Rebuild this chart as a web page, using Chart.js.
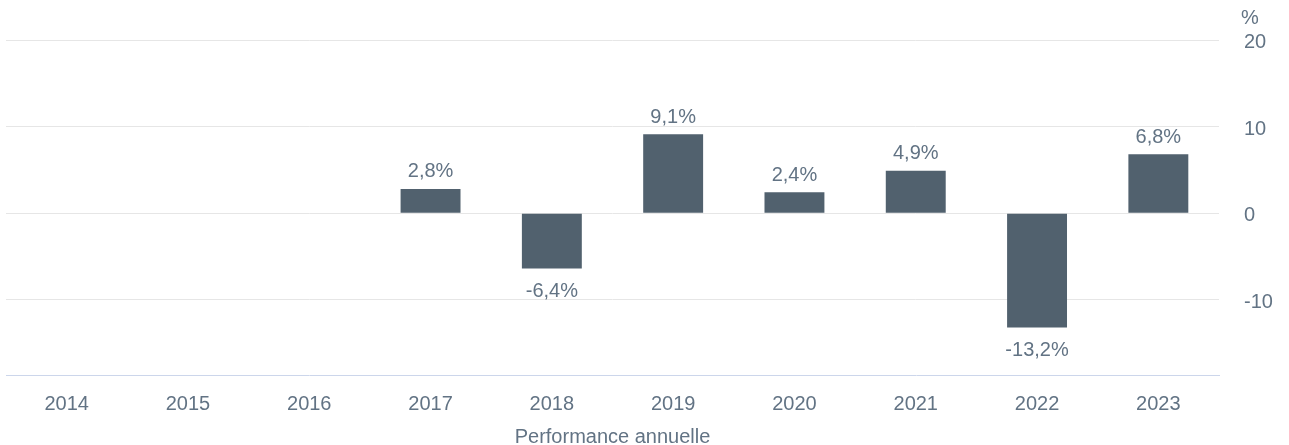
<!DOCTYPE html>
<html>
<head>
<meta charset="utf-8">
<script src="https://cdn.jsdelivr.net/npm/chart.js@4.4.0/dist/chart.umd.min.js"></script>
<style>
html,body{margin:0;padding:0;background:#fff;}
#wrap{width:1289px;height:445px;position:relative;}
</style>
</head>
<body>
<div id="wrap"><canvas id="c"></canvas></div>
<script>
const categories = ['2014','2015','2016','2017','2018','2019','2020','2021','2022','2023'];
const performance = [null, null, null, 2.8, -6.4, 9.1, 2.4, 4.9, -13.2, 6.8];
const yTicks = [20, 10, 0, -10];
const yUnit = '%';
const xTitle = 'Performance annuelle';

const TEXT = '#627384';
const FONT = '"Liberation Sans", Arial, sans-serif';

const fmt = v => v.toFixed(1).replace('.', ',') + '%';

const labelPlugin = {
  id: 'labels',
  afterDatasetsDraw(chart) {
    const ctx = chart.ctx;
    const meta = chart.getDatasetMeta(0);
    ctx.save();
    ctx.font = '20px ' + FONT;
    ctx.fillStyle = TEXT;
    ctx.textAlign = 'center';
    ctx.textBaseline = 'middle';
    meta.data.forEach((bar, i) => {
      const v = performance[i];
      if (v === null || v === undefined) return;
      const y = v >= 0 ? bar.y - 17 : bar.y + 23;
      ctx.fillText(fmt(v), bar.x, y);
    });
    const ys = chart.scales.y;
    ctx.textAlign = 'left';
    ctx.fillText(yUnit, ys.left + 22, 18);
    const ca = chart.chartArea;
    ctx.textAlign = 'center';
    ctx.fillText(xTitle, (ca.left + ca.right) / 2, 437);
    ctx.restore();
  }
};

new Chart(document.getElementById('c'), {
  type: 'bar',
  data: {
    labels: categories,
    datasets: [{
      data: performance,
      backgroundColor: '#51616e',
      borderWidth: 0,
      categoryPercentage: 0.494,
      barPercentage: 1.0
    }]
  },
  options: {
    responsive: true,
    maintainAspectRatio: false,
    animation: false,
    devicePixelRatio: 1,
    layout: { padding: { left: 6, right: 0, top: 40, bottom: 0 } },
    plugins: { legend: { display: false }, tooltip: { enabled: false } },
    scales: {
      x: {
        grid: { display: false, drawTicks: false },
        border: { display: true, color: '#ccd6eb', width: 1 },
        ticks: { color: TEXT, font: { family: FONT, size: 20 }, padding: 17, maxRotation: 0, autoSkip: false },
        afterFit: s => { s.height = 70; }
      },
      y: {
        position: 'right',
        min: -18.7,
        max: 20,
        afterBuildTicks: s => { s.ticks = yTicks.map(v => ({ value: v })); },
        grid: { color: '#e6e6e6', drawTicks: false },
        border: { display: false },
        ticks: {
          color: TEXT,
          font: { family: FONT, size: 20, lineHeight: '5px' },
          padding: 25,
          callback: v => ['', String(v)]
        },
        afterFit: s => { s.width = 70; }
      }
    }
  },
  plugins: [labelPlugin]
});
</script>
</body>
</html>
